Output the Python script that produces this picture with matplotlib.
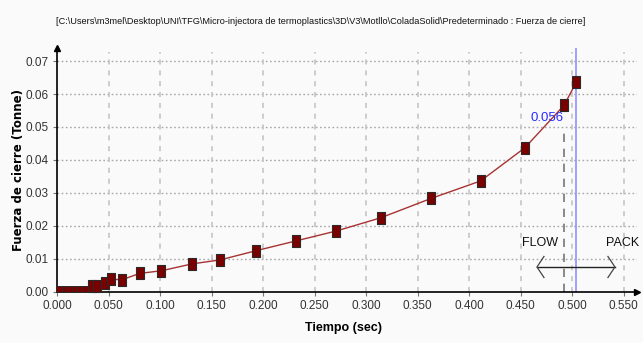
import matplotlib
matplotlib.use('Agg')
import matplotlib.pyplot as plt

# ---------------- data ----------------
time_small = [0.002, 0.007, 0.012, 0.017, 0.022, 0.027]
force_small = [0.0009, 0.0009, 0.0009, 0.0009, 0.0009, 0.0009]
time_main = [0.034, 0.039, 0.046, 0.052, 0.063, 0.080, 0.101, 0.131, 0.158,
             0.193, 0.232, 0.271, 0.314, 0.363, 0.411, 0.454, 0.492, 0.504]
force_main = [0.0016, 0.0016, 0.0026, 0.0037, 0.0036, 0.0055, 0.0063, 0.0084, 0.0096,
              0.0124, 0.0154, 0.0184, 0.0224, 0.0283, 0.0336, 0.0437, 0.0566, 0.0637]
x_ticks = [0.000, 0.050, 0.100, 0.150, 0.200, 0.250, 0.300, 0.350, 0.400, 0.450, 0.500, 0.550]
x_tick_labels = ['0.000', '0.050', '0.100', '0.150', '0.200', '0.250', '0.300',
                 '0.350', '0.400', '0.450', '0.500', '0.550']
y_ticks = [0.00, 0.01, 0.02, 0.03, 0.04, 0.05, 0.06, 0.07]
y_tick_labels = ['0.00', '0.01', '0.02', '0.03', '0.04', '0.05', '0.06', '0.07']
switch_time = 0.492
switch_value = 0.056
end_time = 0.504
title = ('[C:\\Users\\m3mel\\Desktop\\UNI\\TFG\\Micro-injectora de termoplastics\\3D\\V3'
         '\\Motllo\\ColadaSolid\\Predeterminado : Fuerza de cierre]')

SANS = ['Liberation Sans', 'DejaVu Sans']

bg = '#fafafa'
fig = plt.figure(figsize=(6.43, 3.43), dpi=100, facecolor=bg)
ax = fig.add_axes([57.3 / 643, 51.5 / 343, (637 - 57.3) / 643, (291.5 - 48) / 343])
ax.set_facecolor(bg)

xmax = (637 - 57.3) / 1030
ymax = (291.5 - 48) / 3290
ax.set_xlim(0, xmax)
ax.set_ylim(0, ymax)

# grid
for yt in y_ticks[1:]:
    ax.axhline(yt, color='#a8a8a8', lw=1.0, ls=(0, (1.2, 1.8)), zorder=1)
for xt in x_ticks[1:]:
    ax.plot([xt, xt], [0, ymax * 0.985], color='#c4c4c4', lw=1.2, ls=(0, (3, 3.5)), zorder=1)

# spines
for s in ['top', 'right']:
    ax.spines[s].set_visible(False)
for s in ['left', 'bottom']:
    ax.spines[s].set_color('black')
    ax.spines[s].set_linewidth(1.2)
ax.plot(0, 1, marker='^', color='black', ms=4.5, transform=ax.transAxes, clip_on=False, zorder=6)
ax.plot(1, 0, marker='>', color='black', ms=4.5, transform=ax.transAxes, clip_on=False, zorder=6)

# ticks
ax.set_xticks(x_ticks)
ax.set_xticklabels(x_tick_labels, fontfamily=SANS, fontsize=8.5, color='#333333')
ax.set_yticks(y_ticks)
ax.set_yticklabels(y_tick_labels, fontfamily=SANS, fontsize=8.5, color='#333333')
ax.tick_params(axis='both', length=3, width=0.8, color='#777777', pad=3)

# line and markers
all_t = time_small + time_main
all_f = force_small + force_main
ax.plot(all_t, all_f, color='#a83232', lw=1.0, zorder=3)

big = [(-0.32, -0.5), (0.32, -0.5), (0.32, 0.5), (-0.32, 0.5), (-0.32, -0.5)]
small = [(-0.38, -0.5), (0.38, -0.5), (0.38, 0.5), (-0.38, 0.5), (-0.38, -0.5)]
ax.plot(time_small, force_small, ls='none', marker=small, ms=5.0,
        mfc='#7a0000', mec='#2a2a2a', mew=0.7, zorder=4, clip_on=False)
ax.plot(time_main, force_main, ls='none', marker=big, ms=8.0,
        mfc='#7a0000', mec='#2a2a2a', mew=0.8, zorder=4, clip_on=False)

# end-of-fill marker lines
ax.axvline(end_time, color='#9999ff', lw=1.3, zorder=2)
ax.plot([switch_time, switch_time], [0, 0.0482], color='#777777', lw=1.2,
        ls=(0, (5, 4)), zorder=2)
ax.text(switch_time - 0.0005, 0.0527, f'{switch_value:.3f}', color='#2a2aff',
        fontfamily=SANS, fontsize=9.5, ha='right', va='center', zorder=5)

# FLOW / PACK
ax.text(0.4686, 0.01465, 'FLOW', fontfamily=SANS, fontsize=9, ha='center',
        va='center', color='#111111', zorder=5)
ax.text(0.5492, 0.01465, 'PACK', fontfamily=SANS, fontsize=9, ha='center',
        va='center', color='#111111', zorder=5)
ya = 0.00745
xl, xr = 0.4657, 0.5414
dx, dy = 0.0068, 0.0032
ax.plot([xl, xr], [ya, ya], color='#222222', lw=1.0, zorder=5, clip_on=False)
ax.plot([xl + dx, xl, xl + dx], [ya + dy, ya, ya - dy], color='#444444', lw=0.9, zorder=5)
ax.plot([xr - dx, xr, xr - dx], [ya + dy, ya, ya - dy], color='#444444', lw=0.9, zorder=5)

# labels
ax.set_xlabel('Tiempo (sec)', fontfamily=SANS, fontweight='bold', fontsize=9, va='center')
ax.xaxis.set_label_coords((343 - 57.3) / 579.7, (291.5 - 328) / 243.5)
ax.set_ylabel('Fuerza de cierre (Tonne)', fontfamily='DejaVu Sans', fontweight='bold',
              fontsize=8.5, va='center')
ax.yaxis.set_label_coords((19 - 57.3) / 579.7, 0.5)

t = fig.text(321 / 643, 1 - 21 / 343, title, fontfamily=SANS, fontsize=9.5,
             ha='center', va='center', color='#111111')
# keep the title inside the reference width (~525 px)
fig.canvas.draw()
w = t.get_window_extent().width
if w > 525:
    t.set_fontsize(9.5 * 525 / w)

fig.savefig('out.png', dpi=100, facecolor=bg)
